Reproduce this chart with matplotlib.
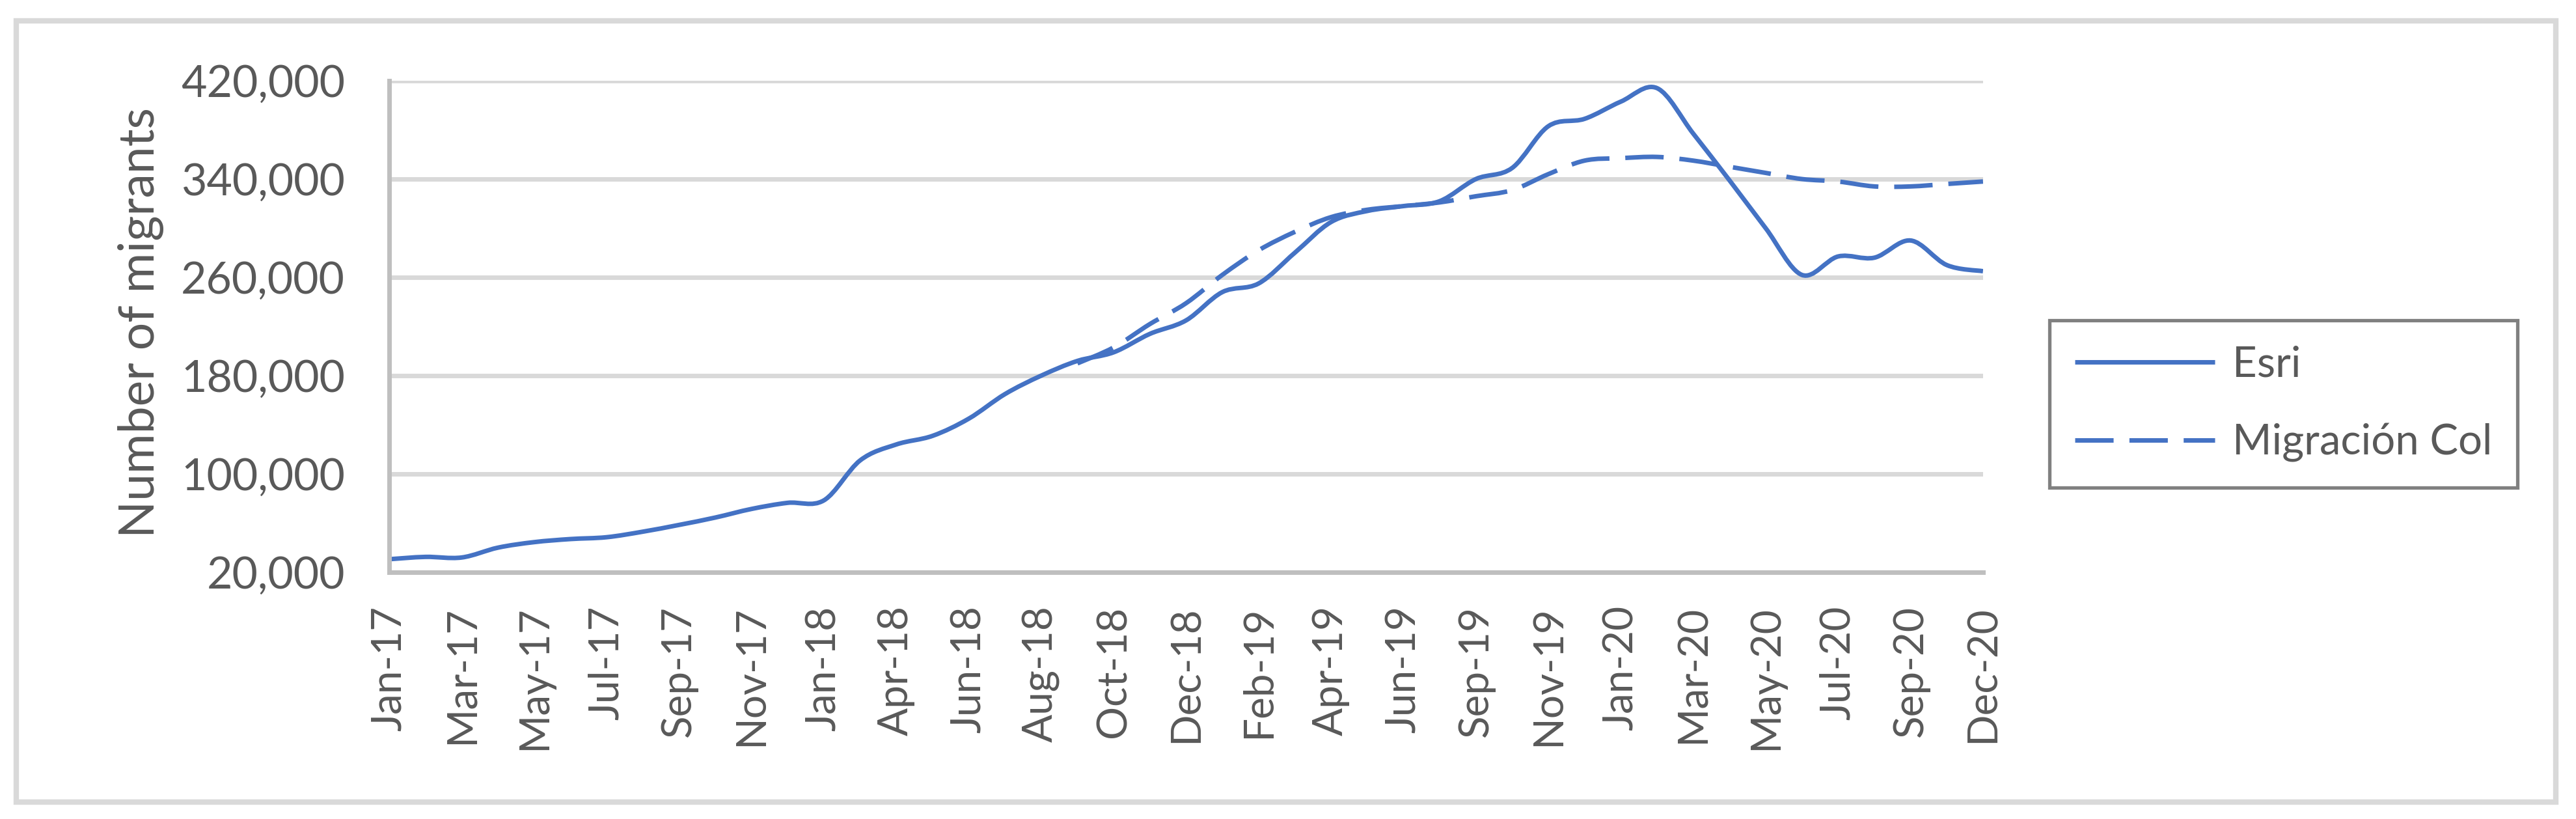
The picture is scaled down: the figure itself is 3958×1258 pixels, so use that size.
import numpy as np
import matplotlib.pyplot as plt
from matplotlib.path import Path
from matplotlib.patches import PathPatch, Rectangle
from matplotlib.lines import Line2D
from matplotlib.ticker import FuncFormatter

plt.rcParams['font.family'] = ['Lato', 'DejaVu Sans']

# category axis (three months are absent in the source sheet)
months = ["Jan-17", "Feb-17", "Mar-17", "Apr-17", "May-17", "Jun-17", "Jul-17", "Aug-17",
          "Sep-17", "Oct-17", "Nov-17", "Dec-17",
          "Jan-18", "Mar-18", "Apr-18", "May-18", "Jun-18", "Jul-18", "Aug-18", "Sep-18",
          "Oct-18", "Nov-18", "Dec-18",
          "Jan-19", "Feb-19", "Mar-19", "Apr-19", "May-19", "Jun-19", "Aug-19", "Sep-19",
          "Oct-19", "Nov-19", "Dec-19",
          "Jan-20", "Feb-20", "Mar-20", "Apr-20", "May-20", "Jun-20", "Jul-20", "Aug-20",
          "Sep-20", "Oct-20", "Dec-20"]

esri = [30600, 32500, 32000, 40000, 44500, 47000, 48500, 53000, 58500, 64500,
        71500, 76500, 78500, 111000, 124000, 131000, 145000, 165000, 180000, 192000,
        199000, 214000, 225000, 248000, 255000, 280000, 305000, 314000, 318000, 322000,
        340000, 349000, 383000, 389000, 403000, 414000, 377000, 339000, 300000, 262000,
        277000, 276000, 290000, 270000, 265000]

# Migración Col starts at Sep-18
col_start = "Sep-18"
migracion_col = [190000, 203000, 222000, 239000, 262000, 282000, 297000, 309000, 315000,
                 318000, 321000, 326000, 331000, 344000, 355000, 357000, 358000, 355000,
                 350000, 345000, 340000, 338000, 334000, 334000, 336000, 338000]

blue = '#4472C4'
text_col = '#595959'
dash = (8.5, 3.5)


def smooth_path(x, y):
    # excel-style smoothed line as cubic bezier segments
    pts = np.column_stack([x, y]).astype(float)
    n = len(pts)
    verts = [pts[0]]
    codes = [Path.MOVETO]
    for k in range(n - 1):
        p0 = pts[max(k - 1, 0)]
        p1 = pts[k]
        p2 = pts[k + 1]
        p3 = pts[min(k + 2, n - 1)]
        verts += [p1 + (p2 - p0) / 6, p2 - (p3 - p1) / 6, p2]
        codes += [Path.CURVE4] * 3
    return Path(verts, codes)


fig = plt.figure(figsize=(39.58, 12.58), dpi=100)
ax = fig.add_axes([0.1511, 0.3013, 0.6187, 0.6001])

x_esri = np.arange(len(esri))
i0 = months.index(col_start)
x_col = np.arange(i0, i0 + len(migracion_col))

ax.add_patch(PathPatch(smooth_path(x_esri, esri), fill=False, edgecolor=blue,
                       lw=5, capstyle='butt', joinstyle='round'))
ax.add_patch(PathPatch(smooth_path(x_col, migracion_col), fill=False, edgecolor=blue,
                       lw=5, linestyle=(0, dash), capstyle='butt', joinstyle='round'))

ax.set_xlim(0, len(months) - 1)
ax.set_ylim(20000, 420000)
ax.set_yticks(np.arange(20000, 420001, 80000))
ax.yaxis.set_major_formatter(FuncFormatter(lambda v, p: f"{v:,.0f}"))
ax.set_xticks(x_esri[::2])
ax.set_xticklabels(months[::2], rotation=90)

ax.yaxis.grid(True, color='#D9D9D9', lw=5)
ax.set_axisbelow(True)
for s in ['top', 'right']:
    ax.spines[s].set_visible(False)
for s in ['left', 'bottom']:
    ax.spines[s].set_color('#BFBFBF')
    ax.spines[s].set_linewidth(5)
ax.tick_params(axis='y', length=0, pad=49, labelsize=49, labelcolor=text_col)
ax.tick_params(axis='x', length=0, pad=37, labelsize=46, labelcolor=text_col)

fig.text(217 / 3958, 1 - 496 / 1258, "Number of migrants", rotation=90,
         ha='center', va='center', fontsize=54, color=text_col)

handles = [Line2D([], [], color=blue, lw=5, solid_capstyle='butt'),
           Line2D([], [], color=blue, lw=5, dashes=dash, dash_capstyle='butt')]
leg = fig.legend(handles, ["Esri", "Migración Col"], loc='center',
                 bbox_to_anchor=(0.8864, 0.5068), fontsize=47, frameon=True,
                 fancybox=False, edgecolor='#808080', handlelength=3.3,
                 handletextpad=0.4, labelspacing=0.92, borderpad=0.6)
leg.get_frame().set_linewidth(3.8)
leg.get_frame().set_alpha(1)
for t in leg.get_texts():
    t.set_color(text_col)

# outer chart frame
fig.patches.append(Rectangle((25 / 3958, 26 / 1258), 3902 / 3958, 1200 / 1258,
                             transform=fig.transFigure, fill=False,
                             edgecolor='#D9D9D9', lw=6))

fig.savefig("out.png", dpi=100)
